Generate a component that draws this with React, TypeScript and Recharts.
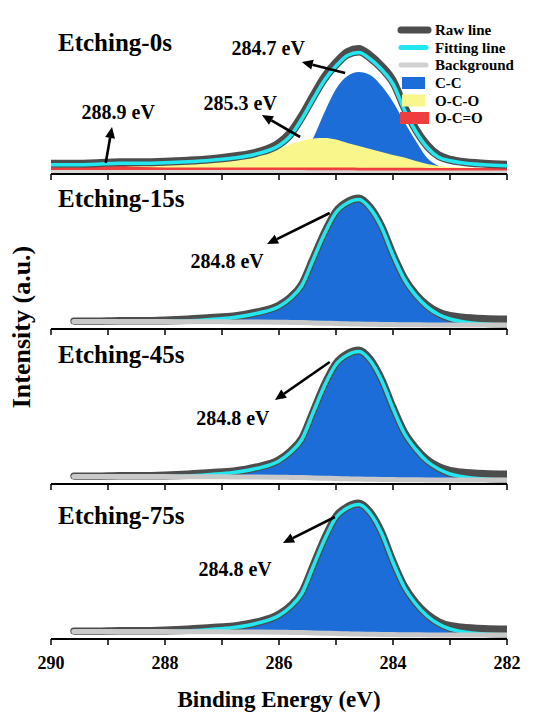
import React from "react";
import {
  ComposedChart,
  Line,
  Area,
  XAxis,
  YAxis,
  ReferenceLine,
  ReferenceDot,
} from "recharts";

// binding energy grid (eV), shared by every panel
const energy = [
  290, 289.6, 289.2, 288.8, 288.4, 288.0, 287.6, 287.2, 286.8, 286.4, 286.0,
  285.8, 285.6, 285.4, 285.2, 285.0, 284.8, 284.6, 284.4, 284.2, 284.0, 283.8,
  283.6, 283.4, 283.2, 283.0, 282.8, 282.4, 282.0,
];
const xTicks = [290, 289, 288, 287, 286, 285, 284, 283, 282];

// Etching-0s
const raw0 = [10.8, 10.8, 11.3, 12.3, 12.3, 12.8, 13.8, 15.3, 18, 22, 31.5, 42, 59, 79, 98, 112, 122.5, 125.5, 119, 108.5, 94, 68, 45.5, 29.5, 19.2, 14.8, 12.8, 10.8, 9.8];
const fit0 = [9.3, 9.3, 9.8, 10.8, 10.8, 11.3, 12.3, 13.8, 16, 20, 28.5, 38, 55, 75, 94, 108, 118.5, 121.5, 115, 104.5, 90, 64, 42.5, 26.5, 16.8, 13.2, 11.2, 9.2, 8.2];
const bg0 = [2.5, 2.5, 2.5, 2.5, 2.5, 2.5, 2.5, 2.5, 2.5, 2.5, 2.5, 2.4, 2.4, 2.3, 2.3, 2.2, 2.2, 2.1, 2.1, 2.0, 2.0, 2.0, 2.0, 2.0, 2.0, 2.0, 2.0, 2.0, 2.0];
const cc0 = [2.5, 2.5, 2.5, 2.5, 2.5, 2.5, 2.5, 2.5, 2.5, 2.5, 6, 10, 18, 36, 62, 85, 98, 102, 99, 88, 72, 52, 33, 16, 8, 5, 3.5, 2.2, 2.0];
const oco0 = [6.5, 7, 7.5, 8, 8.5, 9, 10, 12, 15, 19, 25, 30, 33, 35.5, 36, 34.5, 31, 28, 25, 22, 19, 16.5, 13, 10, 8, 7, 6.5, 6, 6];
const ocoo0 = [6.5, 6.5, 7.5, 8, 7, 6.5, 6.5, 6.5, 6.5, 6.5, 6.5, 6.5, 6.5, 6.5, 6.4, 6.4, 6.4, 6.3, 6.3, 6.3, 6.2, 6.2, 6.2, 6.1, 6.1, 6.1, 6.0, 6.0, 6.0];

// Etching-15s
const raw15 = [null, 8, 8, 8.5, 8.5, 9, 10, 11.5, 13, 17, 24, 32, 45, 71, 97, 118, 127.5, 131, 122, 103, 75, 51, 35, 24, 17, 13.5, 12, 10.5, 10];
const fit15 = [null, 7.5, 7.5, 7.5, 7.5, 7.6, 8, 9.5, 11.5, 15.5, 22.5, 30.5, 43.5, 69.5, 95.5, 116.5, 126, 129.5, 120.5, 101.5, 73.5, 49.5, 33.5, 22, 14.5, 10, 7.5, 5, 4.3];
const bg15 = [null, 7.5, 7.5, 7.5, 7.5, 7.4, 7.3, 7.2, 7.1, 7.0, 6.8, 6.6, 6.4, 6.1, 5.8, 5.5, 5.2, 4.9, 4.7, 4.5, 4.4, 4.3, 4.2, 4.1, 4.1, 4.0, 4.0, 4.0, 4.0];

// Etching-45s
const raw45 = [null, 8, 8, 8.5, 8.5, 9, 10, 11.5, 13, 17, 24.5, 33, 46, 73, 100, 121, 130.5, 134, 125, 105, 77, 52, 36, 24.5, 17.5, 13.5, 12, 10.5, 10];
const fit45 = [null, 7.5, 7.5, 7.5, 7.5, 7.6, 8, 9.5, 11.5, 15.5, 23, 31.5, 44.5, 71.5, 98.5, 119.5, 129, 132.5, 123.5, 103.5, 75.5, 50.5, 34.5, 22.5, 15, 10, 7.5, 5, 4.3];
const bg45 = [null, 7.5, 7.5, 7.5, 7.5, 7.4, 7.3, 7.2, 7.1, 7.0, 6.8, 6.6, 6.4, 6.1, 5.8, 5.5, 5.2, 4.9, 4.7, 4.5, 4.4, 4.3, 4.2, 4.1, 4.1, 4.0, 4.0, 4.0, 4.0];

// Etching-75s
const raw75 = [null, 8, 8, 8.5, 8.5, 9, 10, 11.5, 13, 17, 25, 33.5, 47, 74, 101, 123, 132.5, 136, 127, 107, 78, 53, 36.5, 25, 17.5, 13.5, 12, 10.5, 10];
const fit75 = [null, 7.5, 7.5, 7.5, 7.5, 7.6, 8, 9.5, 11.5, 15.5, 23.5, 32, 45.5, 72.5, 99.5, 121.5, 131, 134.5, 125.5, 105.5, 76.5, 51.5, 35, 23, 15, 10, 7.5, 5, 4.3];
const bg75 = [null, 7.5, 7.5, 7.5, 7.5, 7.4, 7.3, 7.2, 7.1, 7.0, 6.8, 6.6, 6.4, 6.1, 5.8, 5.5, 5.2, 4.9, 4.7, 4.5, 4.4, 4.3, 4.2, 4.1, 4.1, 4.0, 4.0, 4.0, 4.0];

// annotations: [tail eV, tail y, head eV, head y], labels: [eV, y, text]
const arrows0 = [
  [284.84, 101, 285.6, 112],
  [285.63, 37, 286.3, 59],
  [289.04, 11, 288.93, 47],
];
const labels0: [number, number, string][] = [
  [286.19, 119, "284.7 eV"],
  [286.68, 64, "285.3 eV"],
  [288.82, 55, "288.9 eV"],
];
const arrows15 = [[285.11, 116, 286.21, 85]];
const labels15: [number, number, string][] = [[286.91, 61, "284.8 eV"]];
const arrows45 = [[285.11, 122, 286.07, 84]];
const labels45: [number, number, string][] = [[286.81, 59, "284.8 eV"]];
const arrows75 = [[285.02, 122, 285.93, 96]];
const labels75: [number, number, string][] = [[286.77, 63, "284.8 eV"]];

const titles = ["Etching-0s", "Etching-15s", "Etching-45s", "Etching-75s"];
const legendNames = ["Raw line", "Fitting line", "Background", "C-C", "O-C-O", "O-C=O"];

const FONT = '"Liberation Serif", "DejaVu Serif", serif';
const RAW = "#4d4d4d";
const CYAN = "#22e6f0";
const BG = "#c9c9c9";
const BLUE = "#1c6dd8";
const YELLOW = "#f9f68c";
const RED = "#ef3e3e";

const FRAME_TOP = 19;
const PANEL_H = 155;
const LEFT = 51;
const RIGHT = 27;

const rows0 = energy.map((e, i) => ({
  e,
  raw: raw0[i],
  fit: fit0[i],
  bg: bg0[i],
  cc: [bg0[i], cc0[i]],
  oco: [bg0[i], oco0[i]],
  ocoo: [bg0[i], ocoo0[i]],
}));

const single = (raw: (number | null)[], fit: (number | null)[], bg: (number | null)[]) =>
  energy.map((e, i) => ({
    e,
    raw: raw[i],
    fit: fit[i],
    bg: bg[i],
    cc: fit[i] == null ? null : [bg[i], fit[i]],
  }));

const panels = [
  { rows: rows0, arrows: arrows0, labels: labels0, multi: true, titleY: 33 },
  { rows: single(raw15, fit15, bg15), arrows: arrows15, labels: labels15, multi: false, titleY: 34 },
  { rows: single(raw45, fit45, bg45), arrows: arrows45, labels: labels45, multi: false, titleY: 35 },
  { rows: single(raw75, fit75, bg75), arrows: arrows75, labels: labels75, multi: false, titleY: 41 },
];

const arrowShape = (p: any) => {
  const { x1, y1, x2, y2 } = p;
  const ang = Math.atan2(y2 - y1, x2 - x1);
  const L = 11;
  const W = 5;
  const bx = x2 - L * Math.cos(ang);
  const by = y2 - L * Math.sin(ang);
  const px = -Math.sin(ang) * W;
  const py = Math.cos(ang) * W;
  return (
    <g>
      <line x1={x1} y1={y1} x2={bx} y2={by} stroke="#000" strokeWidth={2.6} />
      <polygon points={`${x2},${y2} ${bx + px},${by + py} ${bx - px},${by - py}`} fill="#000" />
    </g>
  );
};

const textShape = (text: string) => (p: any) => (
  <text
    x={p.cx}
    y={p.cy}
    textAnchor="middle"
    fontFamily={FONT}
    fontWeight={700}
    fontSize={20}
    fill="#000"
  >
    {text}
  </text>
);

function Legend() {
  const rowsY = [30, 47.5, 65, 83, 100.5, 118];
  return (
    <svg width={534} height={140} style={{ position: "absolute", left: 0, top: 0, pointerEvents: "none" }}>
      <line x1={401} y1={rowsY[0]} x2={428} y2={rowsY[0]} stroke={RAW} strokeWidth={7} strokeLinecap="round" />
      <line x1={401} y1={rowsY[1]} x2={426} y2={rowsY[1]} stroke={CYAN} strokeWidth={5} strokeLinecap="round" />
      <line x1={401} y1={rowsY[2]} x2={426} y2={rowsY[2]} stroke="#d0d0d0" strokeWidth={5} strokeLinecap="round" />
      <rect x={402} y={rowsY[3] - 6} width={23} height={12} fill={BLUE} />
      <rect x={402} y={rowsY[4] - 6} width={23} height={12} fill={YELLOW} />
      <rect x={400} y={rowsY[5] - 6} width={29} height={12} fill={RED} />
      {legendNames.map((n, i) => (
        <text key={n} x={435} y={rowsY[i] + 5} fontFamily={FONT} fontWeight={700} fontSize={15} fill="#000">
          {n}
        </text>
      ))}
    </svg>
  );
}

export default function App() {
  return (
    <div style={{ position: "absolute", left: 0, top: 0, width: 534, height: 713, background: "#fff" }}>
      {panels.map((p, idx) => {
        const last = idx === panels.length - 1;
        const axisH = last ? 74 : 8;
        return (
          <div key={idx} style={{ position: "absolute", left: 0, top: FRAME_TOP + idx * PANEL_H }}>
            <ComposedChart
              width={534}
              height={PANEL_H + axisH}
              data={p.rows}
              margin={{ top: 0, right: RIGHT, bottom: 0, left: LEFT }}
            >
              <XAxis
                dataKey="e"
                type="number"
                domain={[282, 290]}
                reversed
                allowDataOverflow
                ticks={xTicks}
                interval={0}
                tickSize={6}
                tickMargin={last ? 11 : 0}
                height={axisH}
                axisLine={{ stroke: "#000", strokeWidth: 1.8 }}
                tickLine={{ stroke: "#000", strokeWidth: 1.5 }}
                tick={{ fontSize: 18, fontWeight: 700, fontFamily: FONT, fill: "#000" }}
                tickFormatter={(v: number) => (last && v % 2 === 0 ? String(v) : "")}
                label={
                  last
                    ? {
                        value: "Binding Energy (eV)",
                        position: "insideBottom",
                        offset: 6,
                        style: { fontSize: 23, fontWeight: 700, fontFamily: FONT, fill: "#000" },
                      }
                    : undefined
                }
              />
              <XAxis
                xAxisId="top"
                orientation="top"
                type="number"
                domain={[282, 290]}
                reversed
                height={0}
                tick={false}
                tickLine={false}
                axisLine={{ stroke: "#000", strokeWidth: 1.8 }}
              />
              <YAxis
                type="number"
                domain={[0, PANEL_H]}
                allowDataOverflow
                width={0}
                tick={false}
                tickLine={false}
                axisLine={{ stroke: "#000", strokeWidth: 1.8 }}
              />
              <YAxis
                yAxisId="r"
                orientation="right"
                type="number"
                domain={[0, PANEL_H]}
                width={0}
                tick={false}
                tickLine={false}
                axisLine={{ stroke: "#000", strokeWidth: 1.8 }}
              />
              <Area dataKey="cc" type="monotone" fill={BLUE} fillOpacity={1} stroke="none" isAnimationActive={false} />
              {p.multi && (
                <Area dataKey="oco" type="monotone" fill={YELLOW} fillOpacity={1} stroke="none" isAnimationActive={false} />
              )}
              {p.multi && (
                <Area dataKey="ocoo" type="monotone" fill={RED} fillOpacity={1} stroke="none" isAnimationActive={false} />
              )}
              <Line dataKey="raw" type="monotone" stroke={RAW} strokeWidth={7} strokeLinecap="round" dot={false} isAnimationActive={false} />
              <Line dataKey="fit" type="monotone" stroke={RAW} strokeWidth={6} dot={false} isAnimationActive={false} />
              <Line dataKey="fit" type="monotone" stroke={CYAN} strokeWidth={3.6} dot={false} isAnimationActive={false} />
              <Line
                dataKey="bg"
                type="monotone"
                stroke={p.multi ? "#d8d8d8" : BG}
                strokeWidth={p.multi ? 3 : 5}
                strokeLinecap="round"
                dot={false}
                isAnimationActive={false}
              />
              {p.arrows.map((a, i) => (
                <ReferenceLine
                  key={"a" + i}
                  segment={[
                    { x: a[0], y: a[1] },
                    { x: a[2], y: a[3] },
                  ]}
                  shape={arrowShape}
                />
              ))}
              {p.labels.map((l, i) => (
                <ReferenceDot key={"l" + i} x={l[0]} y={l[1]} r={0} shape={textShape(l[2])} />
              ))}
            </ComposedChart>
            <div
              style={{
                position: "absolute",
                left: 58,
                top: p.titleY - 24,
                fontFamily: FONT,
                fontWeight: 700,
                fontSize: 25,
                lineHeight: "30px",
                whiteSpace: "nowrap",
                pointerEvents: "none",
              }}
            >
              {titles[idx]}
            </div>
          </div>
        );
      })}
      <Legend />
      <svg width={40} height={713} style={{ position: "absolute", left: 0, top: 0, pointerEvents: "none" }}>
        <text
          transform="translate(30, 327) rotate(-90)"
          textAnchor="middle"
          fontFamily={FONT}
          fontWeight={700}
          fontSize={26}
          fill="#000"
        >
          Intensity (a.u.)
        </text>
      </svg>
    </div>
  );
}
